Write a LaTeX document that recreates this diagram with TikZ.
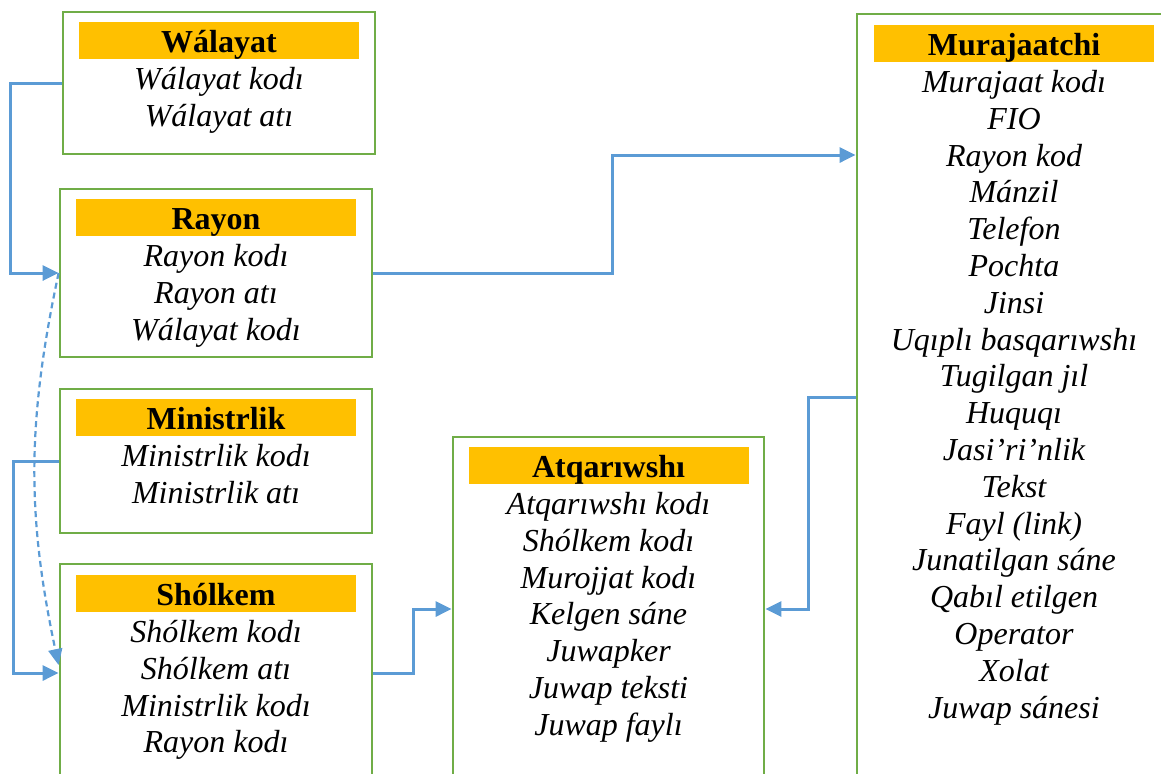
\documentclass[tikz,border=0pt]{standalone}
\usepackage{fontspec}
\setmainfont{Liberation Serif}
\usetikzlibrary{arrows.meta,calc}
\definecolor{boxgreen}{HTML}{70AD47}
\definecolor{headorange}{HTML}{FFC000}
\definecolor{linkblue}{HTML}{5B9BD5}

\begin{document}
\begin{tikzpicture}[x=0.5pt,y=-0.5pt,
  entity/.style={draw=boxgreen, line width=1.4pt, fill=white, minimum width=156pt, inner sep=0pt},
  headbar/.style={fill=headorange, minimum width=140pt, minimum height=18.5pt, inner sep=0pt, anchor=north},
  title/.style={font=\fontsize{16}{18}\selectfont\bfseries, anchor=base, inner sep=0pt},
  field/.style={font=\fontsize{16}{18}\selectfont\itshape, anchor=base, inner sep=0pt},
  link/.style={draw=linkblue, line width=1.5pt, -{Triangle[length=8pt,width=7.5pt]}},
  dashlink/.style={draw=linkblue, line width=1.1pt, dash pattern=on 3pt off 2pt, -{Triangle[length=8pt,width=7pt]}}]

\useasboundingbox (0,0) rectangle (1161,773);

% entity boxes
\node[entity, minimum height=71pt] (wal) at (219,83) {};
\node[entity, minimum height=84pt] (ray) at (216,273) {};
\node[entity, minimum height=72pt] (min) at (216,461) {};
\node[entity, minimum height=109pt] (sho) at (216,673) {};
\node[entity, minimum width=155.5pt, minimum height=172pt] (atq) at (608.5,609) {};
\node[entity, minimum width=157pt, minimum height=383.5pt] (mur) at (1014,397.5) {};

% header bars
\node[headbar] (walh) at ([yshift=-5.5pt]wal.north) {};
\node[headbar] (rayh) at ([yshift=-5.5pt]ray.north) {};
\node[headbar] (minh) at ([yshift=-5.5pt]min.north) {};
\node[headbar] (shoh) at ([yshift=-6pt]sho.north) {};
\node[headbar] (atqh) at ([yshift=-5.5pt]atq.north) {};
\node[headbar] (murh) at ([yshift=-6pt]mur.north) {};

% titles
\node[title] (walt) at ([yshift=3.65pt]walh.south) {Wálayat};
\node[title] (rayt) at ([yshift=3.65pt]rayh.south) {Rayon};
\node[title] (mint) at ([yshift=3.65pt]minh.south) {Ministrlik};
\node[title] (shot) at ([yshift=3.65pt]shoh.south) {Shólkem};
\node[title] (atqt) at ([yshift=3.65pt]atqh.south) {Atqarıwshı};
\node[title] (murt) at ([yshift=3.65pt]murh.south) {Murajaatchi};

% fields
\foreach \t [count=\i from 0] in {Wálayat kodı, Wálayat atı}
  \node[field] (walf\i) at ([yshift={-(15+18.4*\i)*1pt}]walh.south) {\t};
\foreach \t [count=\i from 0] in {Rayon kodı, Rayon atı, Wálayat kodı}
  \node[field] (rayf\i) at ([yshift={-(15+18.4*\i)*1pt}]rayh.south) {\t};
\foreach \t [count=\i from 0] in {Ministrlik kodı, Ministrlik atı}
  \node[field] (minf\i) at ([yshift={-(15+18.4*\i)*1pt}]minh.south) {\t};
\foreach \t [count=\i from 0] in {Shólkem kodı, Shólkem atı, Ministrlik kodı, Rayon kodı}
  \node[field] (shof\i) at ([yshift={-(15+18.4*\i)*1pt}]shoh.south) {\t};
\foreach \t [count=\i from 0] in {Atqarıwshı kodı, Shólkem kodı, Murojjat kodı, Kelgen sáne, Juwapker, Juwap teksti, Juwap faylı}
  \node[field] (atqf\i) at ([yshift={-(15+18.4*\i)*1pt}]atqh.south) {\t};
\foreach \t [count=\i from 0] in {Murajaat kodı, FIO, Rayon kod, Mánzil, Telefon, Pochta, Jinsi, Uqıplı basqarıwshı, Tugilgan jıl, Huquqı, Jasi’ri’nlik, Tekst, {Fayl (link)}, Junatilgan sáne, Qabıl etilgen, Operator, Xolat, Juwap sánesi}
  \node[field] (murf\i) at ([yshift={-(15+18.4*\i)*1pt}]murh.south) {\t};

% connectors
\coordinate (murin) at (mur.west |- 0,155);
\draw[link] (wal.west) -- ++(-51,0) |- (ray.west);
\draw[link] (ray.east) -- ++(239,0) |- (murin);
\draw[link] (min.west) -- ++(-45,0) |- (sho.west);
\draw[link] (sho.east) -- ++(40,0) |- (atq.west);
\draw[link] (mur.west) -- ++(-47,0) |- (atq.east);
\draw[dashlink] (ray.west) to[bend right=12] ([yshift=4pt]sho.west);
\end{tikzpicture}
\end{document}
